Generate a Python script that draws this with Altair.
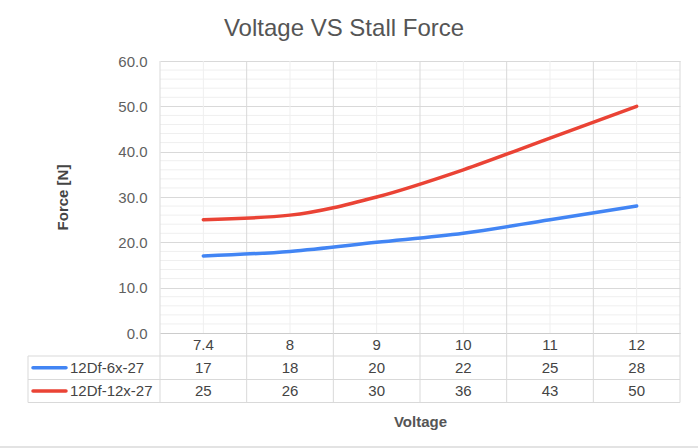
import altair as alt
import pandas as pd

# Stall force measured at each supply voltage for two gearbox variants
voltages = ["7.4", "8", "9", "10", "11", "12"]
series_names = ["12Df-6x-27", "12Df-12x-27"]
force_6x = [17, 18, 20, 22, 25, 28]
force_12x = [25, 26, 30, 36, 43, 50]
series_colors = ["#4285F4", "#EA4335"]
y_ticks = [0, 10, 20, 30, 40, 50, 60]
minor_y = [v for v in range(0, 61, 2) if v % 10]

W, H = 520, 272
FONT = "Liberation Sans"
MAJOR = "#d9d9d9"
MINOR = "#efefef"
TEXT = "#444444"

records = []
for name, vals in zip(series_names, [force_6x, force_12x]):
    for v, f in zip(voltages, vals):
        records.append({"voltage": v, "series": name, "force": f})
df = pd.DataFrame(records)
series_df = pd.DataFrame({"series": series_names})
minor_df = pd.DataFrame({"y": minor_y})
one = pd.DataFrame({"k": [0]})

x_scale = alt.Scale(type="band", paddingInner=0, paddingOuter=0)
y_scale = alt.Scale(domain=[0, 60], nice=False)
color_scale = alt.Scale(domain=series_names, range=series_colors)

x_axis = alt.Axis(
    labelAngle=0, labelFontSize=15, labelColor=TEXT, labelPadding=11,
    labelBaseline="middle", ticks=False, domain=True, domainColor="#cccccc",
    grid=False, title="Voltage", titleFontSize=15, titleFontWeight="bold",
    titleColor="#555555", titleY=88, titleBaseline="middle",
)
y_axis = alt.Axis(
    values=y_ticks, format=".1f", labelFontSize=15, labelColor="#5f5f5f",
    labelPadding=13, ticks=False, domain=False, grid=True, gridColor=MAJOR,
    title="Force [N]", titleFontSize=15, titleFontWeight="bold",
    titleColor=TEXT, titleX=-98, titleY=H / 2, titleAlign="center",
    titleBaseline="middle",
)

# minor horizontal grid
minor_h = alt.Chart(minor_df).mark_rule(color=MINOR, strokeWidth=1).encode(
    y=alt.Y("y:Q", scale=y_scale, axis=y_axis)
)

first = df[df["series"] == series_names[0]]

# minor vertical grid at category centres
minor_v = alt.Chart(first).mark_rule(color=MINOR, strokeWidth=1).encode(
    x=alt.X("voltage:N", sort=voltages, scale=x_scale, axis=x_axis, bandPosition=0.5),
    y=alt.value(0), y2=alt.value(H),
)

# major vertical lines at category boundaries, running down through the table
major_v = alt.Chart(first).mark_rule(color=MAJOR, strokeWidth=1).encode(
    x=alt.X("voltage:N", sort=voltages, bandPosition=0),
    y=alt.value(0), y2=alt.value(H + 69.5),
)
right_edge = alt.Chart(one).mark_rule(color=MAJOR, strokeWidth=1).encode(
    x=alt.value(W), y=alt.value(0), y2=alt.value(H + 69.5)
)

# table rows
row_lines = [
    alt.Chart(one).mark_rule(color=MAJOR, strokeWidth=1).encode(
        x=alt.value(-132), x2=alt.value(W), y=alt.value(H + dy)
    )
    for dy in (23, 46.5, 69.5)
]
left_edge = alt.Chart(one).mark_rule(color=MAJOR, strokeWidth=1).encode(
    x=alt.value(-132), y=alt.value(H + 23), y2=alt.value(H + 69.5)
)

lines = alt.Chart(df).mark_line(
    interpolate="monotone", strokeWidth=3.5, strokeCap="round"
).encode(
    x=alt.X("voltage:N", sort=voltages, bandPosition=0.5),
    y=alt.Y("force:Q"),
    color=alt.Color("series:N", scale=color_scale, legend=None),
)

row_y = [H + 34.7, H + 58]
table_layers = []
for name, ry in zip(series_names, row_y):
    table_layers.append(
        alt.Chart(df).transform_filter(alt.datum.series == name)
        .mark_text(fontSize=15, color=TEXT, baseline="middle", align="center")
        .encode(
            x=alt.X("voltage:N", sort=voltages, bandPosition=0.5),
            y=alt.value(ry),
            text=alt.Text("force:Q", format="d"),
        )
    )
    table_layers.append(
        alt.Chart(series_df).transform_filter(alt.datum.series == name)
        .mark_rule(strokeWidth=3.5, strokeCap="round")
        .encode(
            x=alt.value(-127), x2=alt.value(-94), y=alt.value(ry),
            color=alt.Color("series:N", scale=color_scale, legend=None),
        )
    )
    table_layers.append(
        alt.Chart(series_df).transform_filter(alt.datum.series == name)
        .mark_text(fontSize=15, color=TEXT, baseline="middle", align="left")
        .encode(x=alt.value(-90), y=alt.value(ry), text="series:N")
    )

frame_line = alt.Chart(one).mark_rule(color="#e3e3e3", strokeWidth=2).encode(
    x=alt.value(-160), x2=alt.value(538), y=alt.value(H + 114)
)

chart = alt.layer(
    minor_h, minor_v, major_v, right_edge, *row_lines, left_edge,
    lines, *table_layers, frame_line,
).properties(
    width=W,
    height=H,
    autosize=alt.AutoSizeParams(type="none"),
    padding={"left": 160, "top": 61, "right": 18, "bottom": 115},
    title=alt.TitleParams(
        "Voltage VS Stall Force", fontSize=24, font=FONT, fontWeight="normal",
        color="#555555", anchor="middle", frame="group", dx=-76, offset=-6,
        baseline="alphabetic",
    ),
).configure(
    font=FONT, background="white"
).configure_view(stroke=None)

chart.save("out.html", embed_options={"renderer": "svg", "actions": False})
